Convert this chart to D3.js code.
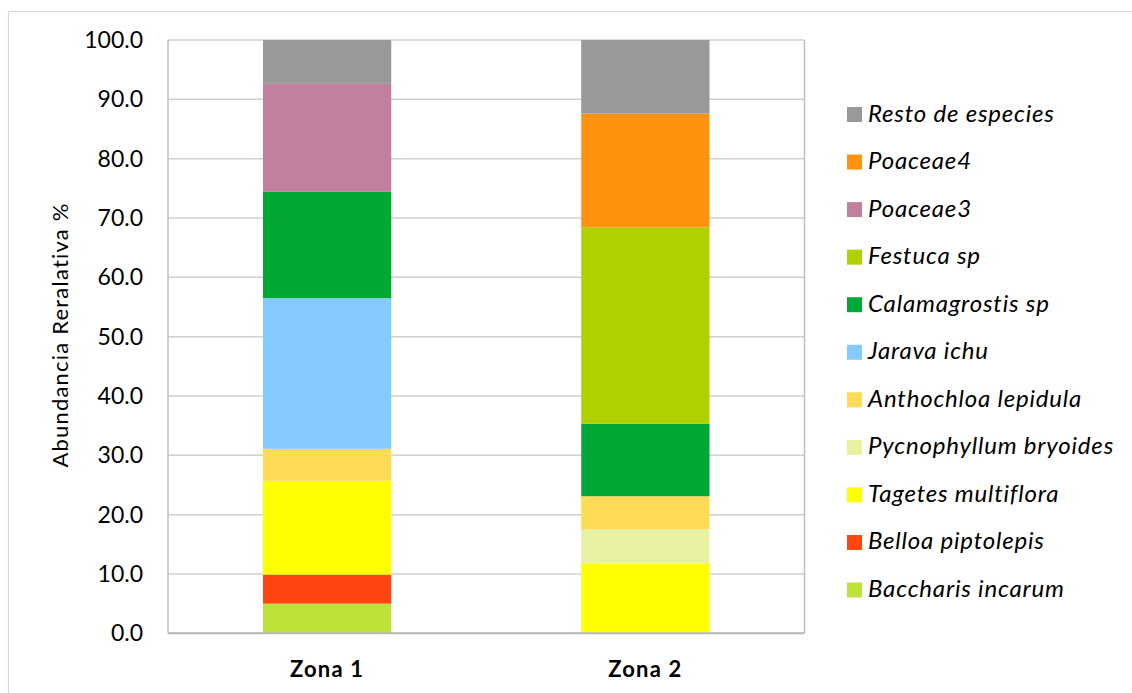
<!DOCTYPE html>
<html>
<head>
<meta charset="utf-8">
<script src="https://cdn.jsdelivr.net/npm/d3@7"></script>
<style>
  html, body { margin: 0; padding: 0; background: #ffffff; }
  svg { display: block; }
</style>
</head>
<body>
<svg id="chart" width="1132" height="693"></svg>
<script>
// Zones sampled
const zones = ["Zona 1", "Zona 2"];

// Species, listed bottom-to-top in the stack
const species = [
  "Baccharis incarum",
  "Belloa piptolepis",
  "Tagetes multiflora",
  "Pycnophyllum bryoides",
  "Anthochloa lepidula",
  "Jarava ichu",
  "Calamagrostis sp",
  "Festuca sp",
  "Poaceae3",
  "Poaceae4",
  "Resto de especies"
];

// Relative abundance (%) per species: [Zona 1, Zona 2]
const baccharis = [5.0, 0];
const belloa = [4.9, 0];
const tagetes = [15.8, 11.8];
const pycnophyllum = [0, 5.7];
const anthochloa = [5.4, 5.6];
const jarava = [25.4, 0];
const calamagrostis = [17.9, 12.2];
const festuca = [0, 33.1];
const poaceae3 = [18.2, 0];
const poaceae4 = [0, 19.2];
const resto = [7.4, 12.4];

const seriesValues = [baccharis, belloa, tagetes, pycnophyllum, anthochloa,
  jarava, calamagrostis, festuca, poaceae3, poaceae4, resto];

const speciesColors = [
  "#bde33a", "#ff4611", "#ffff00", "#e8f0a2", "#ffdb58",
  "#85caff", "#00a836", "#b0d000", "#c0809e", "#ff920f", "#999999"
];

const yTicks = [0, 10, 20, 30, 40, 50, 60, 70, 80, 90, 100];

// Table shaped for d3.stack
const rows = zones.map((z, i) => {
  const r = { zone: z };
  species.forEach((s, k) => { r[s] = seriesValues[k][i]; });
  return r;
});

const svg = d3.select("#chart");
const plot = { left: 168, right: 804.5, top: 40, bottom: 633.3 };

// Outer chart frame
svg.append("rect")
  .attr("x", 8.5).attr("y", 11.5)
  .attr("width", 1300).attr("height", 900)
  .attr("fill", "none").attr("stroke", "#d9d9d9").attr("stroke-width", 1.2);

const x = d3.scaleBand().domain(zones).range([plot.left, plot.right]).padding(0);
const barW = x.bandwidth() * 0.403;
const y = d3.scaleLinear().domain([0, 100]).range([plot.bottom, plot.top]);
const color = d3.scaleOrdinal().domain(species).range(speciesColors);

// Horizontal gridlines
svg.append("g")
  .selectAll("line")
  .data(yTicks)
  .join("line")
  .attr("x1", plot.left).attr("x2", plot.right)
  .attr("y1", d => y(d)).attr("y2", d => y(d))
  .attr("stroke", "#d0d0d0").attr("stroke-width", 1.5);

// Plot frame sides
svg.append("line")
  .attr("x1", plot.left).attr("x2", plot.left)
  .attr("y1", plot.top).attr("y2", plot.bottom)
  .attr("stroke", "#bfbfbf").attr("stroke-width", 1.5);
svg.append("line")
  .attr("x1", plot.right).attr("x2", plot.right)
  .attr("y1", plot.top).attr("y2", plot.bottom)
  .attr("stroke", "#bfbfbf").attr("stroke-width", 1.5);

// Stacked bars
const stacked = d3.stack().keys(species)(rows);
svg.append("g")
  .selectAll("g")
  .data(stacked)
  .join("g")
  .attr("fill", d => color(d.key))
  .selectAll("rect")
  .data(d => d)
  .join("rect")
  .attr("x", d => x(d.data.zone) + (x.bandwidth() - barW) / 2)
  .attr("width", barW)
  .attr("y", d => y(d[1]))
  .attr("height", d => y(d[0]) - y(d[1]));

// Bottom axis line
svg.append("line")
  .attr("x1", plot.left).attr("x2", plot.right)
  .attr("y1", plot.bottom).attr("y2", plot.bottom)
  .attr("stroke", "#b8b8b8").attr("stroke-width", 2);

// Y axis labels
const yAxis = d3.axisLeft(y).tickValues(yTicks)
  .tickFormat(d3.format(".1f")).tickSize(0).tickPadding(25);
const yg = svg.append("g").attr("transform", `translate(${plot.left},0)`).call(yAxis);
yg.select(".domain").remove();
yg.selectAll("text")
  .attr("font-family", "Lato, sans-serif")
  .attr("font-size", 23)
  .attr("fill", "#000");

// Y axis title
svg.append("text")
  .attr("transform", "translate(68,335) rotate(-90)")
  .attr("text-anchor", "middle")
  .attr("font-family", "Lato, sans-serif")
  .attr("font-size", 22)
  .attr("letter-spacing", 1.2)
  .attr("fill", "#000")
  .text("Abundancia Reralativa %");

// X axis labels
const xAxis = d3.axisBottom(x).tickSize(0).tickPadding(28);
const xg = svg.append("g").attr("transform", `translate(0,${plot.bottom})`).call(xAxis);
xg.select(".domain").remove();
xg.selectAll("text")
  .attr("font-family", "Lato, sans-serif")
  .attr("font-size", 22)
  .attr("font-weight", "bold")
  .attr("letter-spacing", 1.2)
  .attr("fill", "#000");

// Legend, top entry is the top of the stack
const legendOrder = species.slice().reverse();
const leg = svg.append("g")
  .selectAll("g")
  .data(legendOrder)
  .join("g")
  .attr("transform", (d, i) => `translate(847,${114.5 + i * 47.55})`);
leg.append("rect")
  .attr("x", 0).attr("y", -7.5)
  .attr("width", 15).attr("height", 15)
  .attr("fill", d => color(d));
leg.append("text")
  .attr("x", 21).attr("y", 7)
  .attr("font-family", "Lato, sans-serif")
  .attr("font-size", 24)
  .attr("font-style", "italic")
  .attr("letter-spacing", 0.8)
  .attr("fill", "#000")
  .text(d => d);
</script>
</body>
</html>
